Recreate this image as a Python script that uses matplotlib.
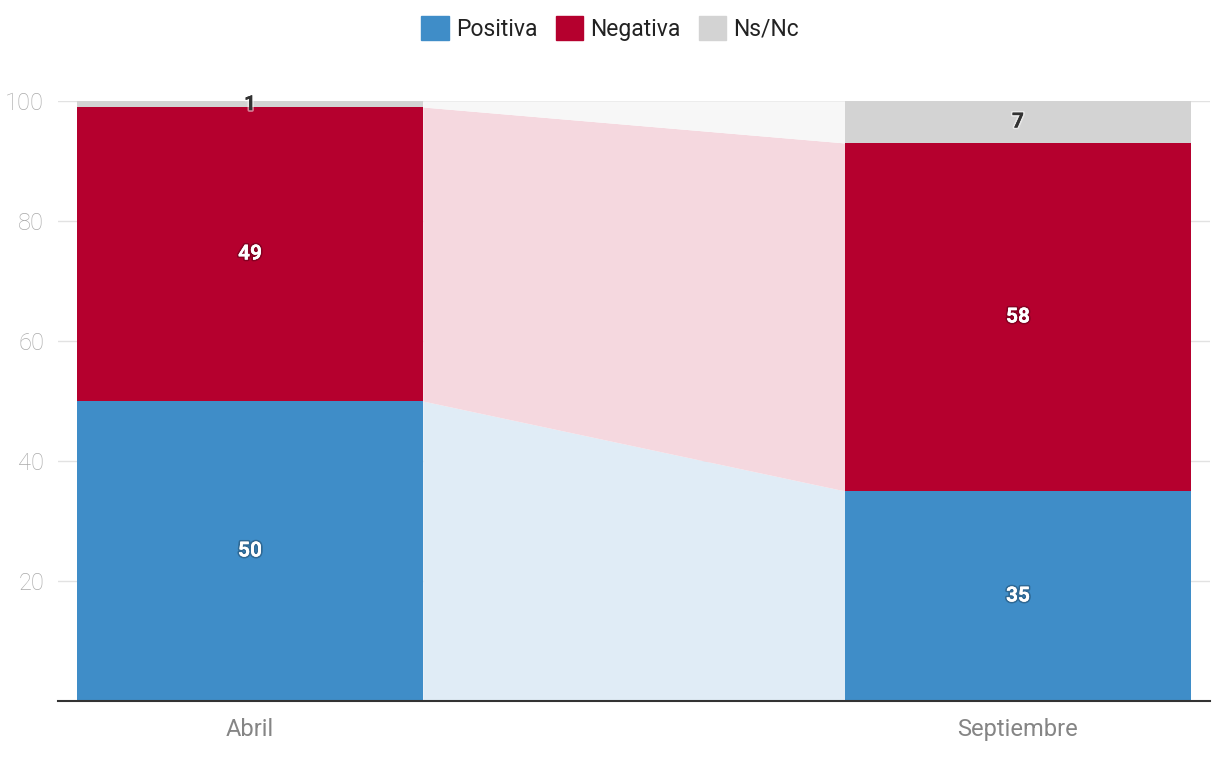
import numpy as np
import matplotlib
matplotlib.use("Agg")
import matplotlib.pyplot as plt
import matplotlib.patheffects as pe
from matplotlib.patches import Patch

plt.rcParams['font.family'] = ['Roboto', 'DejaVu Sans']

periods = ["Abril", "Septiembre"]
series = ["Positiva", "Negativa", "Ns/Nc"]
values = {
    "Positiva": [50, 35],
    "Negativa": [49, 58],
    "Ns/Nc": [1, 7],
}
colors = {"Positiva": "#3f8dc8", "Negativa": "#b5002e", "Ns/Nc": "#d3d3d3"}
band_colors = {"Positiva": "#e0ecf6", "Negativa": "#f5d8df", "Ns/Nc": "#f7f7f7"}
label_colors = {"Positiva": "white", "Negativa": "white", "Ns/Nc": "#333333"}

fig = plt.figure(figsize=(12.2, 7.64), dpi=100)
ax = fig.add_axes([58/1220, 63/764, (1210-58)/1220, 600/764])

x = np.arange(len(periods))
width = 0.45
bottom = np.zeros(len(periods))
for s in series:
    v = np.array(values[s], dtype=float)
    ax.bar(x, v, width, bottom=bottom, color=colors[s], zorder=3)
    # connecting band between the bars
    ax.fill_between([x[0] + width/2, x[1] - width/2],
                    bottom, bottom + v, color=band_colors[s], lw=0, zorder=1)
    for xi, b, vi in zip(x, bottom, v):
        if s == "Ns/Nc" and vi < 3:
            ypos = b + vi - 0.6
        else:
            ypos = b + vi/2
        if label_colors[s] == "white":
            eff = [pe.withStroke(linewidth=2.5, foreground=(0, 0, 0, 0.25)), pe.Normal()]
        else:
            eff = [pe.withStroke(linewidth=2.5, foreground=(1, 1, 1, 0.5)), pe.Normal()]
        ax.text(xi, ypos, f"{int(vi)}", ha="center", va="center",
                fontsize=15, fontweight="bold", color=label_colors[s],
                path_effects=eff, zorder=5, clip_on=False)
    bottom = bottom + v

ax.set_xlim(-0.25, 1.25)
ax.set_ylim(0, 100)
ax.set_yticks([20, 40, 60, 80, 100])
ax.set_xticks(x)
ax.set_xticklabels(periods)
ax.yaxis.grid(True, color="#e2e2e2", lw=1, zorder=0)
ax.set_axisbelow(True)
for sp in ["top", "right", "left"]:
    ax.spines[sp].set_visible(False)
ax.spines["bottom"].set_color("#333333")
ax.spines["bottom"].set_linewidth(1.5)
ax.spines["bottom"].set_zorder(6)
ax.tick_params(axis="both", length=0, labelsize=17)
ax.tick_params(axis="y", pad=10, colors="#aaaaaa")
ax.tick_params(axis="x", pad=12, colors="#858585")
for lbl in ax.get_yticklabels():
    lbl.set_fontweight("light")

handles = [Patch(color=colors[s], label=s) for s in series]
leg = fig.legend(handles=handles, loc="upper center", bbox_to_anchor=(0.5, 1.0),
                 ncol=3, frameon=False, fontsize=16.5, handlelength=1.2, handleheight=1.2,
                 handletextpad=0.3, columnspacing=0.8, borderaxespad=0.3)
for t in leg.get_texts():
    t.set_color("#222222")

fig.savefig("out.png", dpi=100)
